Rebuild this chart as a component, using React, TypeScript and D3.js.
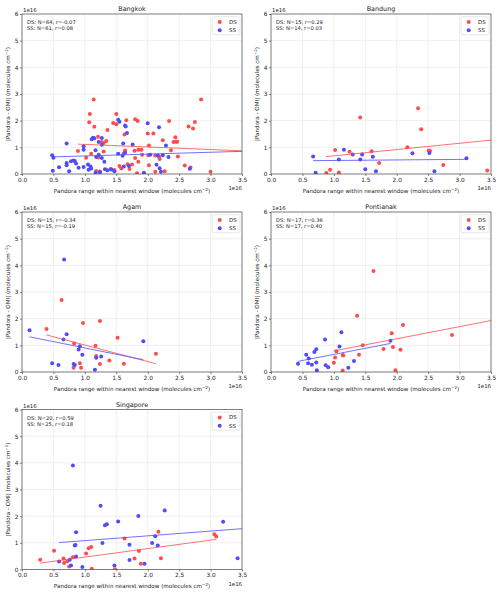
import React, {useEffect, useRef} from "react";
import * as d3 from "d3";

type Pt = [number, number];

// x: Pandora range, y: |Pandora - OMI|, both in units of 1e16 molecules cm^-2
const siteNames = ["Bangkok", "Bandung", "Agam", "Pontianak", "Singapore"];
const xTicks = [0, 0.5, 1, 1.5, 2, 2.5, 3, 3.5];
const yTicks = [0, 1, 2, 3, 4, 5, 6];

const dsN = [64, 15, 15, 17, 20];
const dsR = [-0.07, 0.29, -0.34, 0.36, 0.59];
const ssN = [61, 14, 15, 17, 25];
const ssR = [0.08, 0.03, -0.19, 0.4, 0.18];

const bangkokDS: Pt[] = [
	[1.14, 2.79], [1.08, 2.25], [1.07, 1.94], [1.15, 1.77], [1.5, 2.25], [1.45, 1.91],
	[1.5, 1.87], [1.36, 1.65], [1.66, 2.02], [1.63, 1.48], [1.21, 1.4], [1.34, 1.24],
	[1.3, 1.16], [0.89, 0.86], [1.1, 0.76], [1.3, 0.84], [1.02, 0.61], [1.22, 0.62],
	[1.18, 0.11], [1.24, 0.09], [1.41, 0.19], [1.47, 0.15], [1.58, 0.21], [1.55, 0.3],
	[1.64, 0.88], [1.62, 0.78], [1.8, 2.05], [1.84, 1.99], [2.34, 1.99], [2.75, 1.95],
	[2.65, 1.78], [2.72, 1.71], [2.0, 1.52], [2.09, 1.52], [2.44, 1.38], [2.24, 1.27],
	[2.41, 1.2], [2.45, 1.21], [2.47, 1.21], [2.02, 1.07], [1.85, 0.91], [1.9, 0.91],
	[2.37, 0.89], [1.79, 0.87], [2.01, 0.7], [2.12, 0.69], [2.18, 0.66], [2.48, 0.66],
	[1.8, 0.6], [1.85, 0.46], [1.68, 0.37], [1.75, 0.36], [2.19, 0.56], [2.59, 0.32],
	[2.68, 0.24], [1.71, 0.19], [1.83, 0.03], [2.12, 0.08], [2.27, 0.1], [3.0, 0.08],
	[2.02, 0.33], [1.91, 0.72], [1.27, 1.2], [2.85, 2.79],
];
const bangkokSS: Pt[] = [
	[0.48, 0.7], [0.5, 0.61], [0.49, 0.12], [0.59, 0.25], [0.71, 1.14], [0.71, 0.41],
	[0.71, 0.33], [0.75, 0.1], [0.82, 0.51], [0.84, 0.49], [0.86, 0.39], [0.9, 0.23],
	[0.98, 1.04], [0.98, 0.91], [0.98, 0.26], [1.05, 0.36], [1.06, 0.16], [1.11, 1.3],
	[1.13, 1.36], [1.15, 1.34], [1.1, 0.21], [1.17, 0.89], [1.18, 0.64], [1.22, 1.2],
	[1.22, 0.72], [1.27, 1.35], [1.27, 0.6], [1.31, 0.46], [1.27, 1.1], [1.36, 0.14],
	[1.53, 2.03], [1.55, 1.96], [1.47, 0.1], [1.6, 0.68], [1.61, 1.14], [1.64, 1.82],
	[1.65, 1.78], [1.67, 1.54], [1.53, 0.76], [2.0, 1.9], [2.18, 1.75], [1.76, 1.11],
	[1.64, 0.8], [2.04, 0.72], [2.16, 0.69], [2.24, 0.7], [2.29, 1.07], [2.33, 0.64],
	[1.7, 0.3], [2.21, 0.08], [1.94, 0.05], [2.67, 0.2], [2.14, 0.35], [1.42, 0.17],
	[1.17, 0.05], [1.24, 0.07], [1.32, 0.18], [0.78, 0.48], [1.62, 0.28], [1.09, 0.28],
	[2.19, 0.22],
];

const bandungDS: Pt[] = [
	[0.88, 0.04], [0.94, 0.16], [1.02, 0.9], [1.08, 0.06], [1.25, 0.83], [1.42, 2.12],
	[1.6, 0.85], [1.72, 0.41], [2.17, 1.0], [2.34, 2.47], [2.39, 1.68], [2.51, 0.88],
	[2.53, 0.86], [2.74, 0.34], [3.44, 0.13],
];
const bandungSS: Pt[] = [
	[0.67, 0.66], [0.71, 0.05], [1.08, 0.54], [1.16, 0.91], [1.3, 0.73], [1.42, 0.54],
	[1.45, 0.73], [1.5, 0.18], [1.62, 0.65], [1.67, 0.1], [2.25, 0.78], [2.52, 0.79],
	[2.6, 0.1], [3.11, 0.59],
];

const agamDS: Pt[] = [
	[0.39, 1.61], [0.63, 2.7], [0.83, 1.07], [0.82, 0.16], [0.92, 0.33], [0.94, 0.16],
	[0.97, 1.84], [1.17, 0.98], [1.18, 0.6], [1.24, 1.91], [1.24, 0.3], [1.39, 0.43],
	[1.52, 1.28], [1.62, 0.31], [2.13, 0.68],
];
const agamSS: Pt[] = [
	[0.12, 1.57], [0.48, 0.33], [0.58, 0.26], [0.66, 1.22], [0.67, 4.22], [0.71, 1.42],
	[0.82, 0.3], [0.84, 0.26], [0.9, 0.84], [0.92, 0.97], [0.96, 0.65], [1.16, 0.08],
	[1.18, 0.53], [1.26, 0.58], [1.93, 1.15],
];

const pontianakDS: Pt[] = [
	[1.0, 0.35], [1.02, 0.54], [1.04, 0.78], [1.14, 0.64], [1.14, 0.06], [1.37, 2.11],
	[1.4, 0.65], [1.46, 1.0], [1.63, 3.79], [1.79, 0.86], [1.92, 1.45], [1.94, 0.94],
	[1.98, 0.07], [2.06, 0.83], [2.1, 1.76], [2.88, 1.39], [1.15, 0.62],
];
const pontianakSS: Pt[] = [
	[0.43, 0.31], [0.56, 0.65], [0.6, 0.51], [0.59, 0.33], [0.65, 0.27], [0.69, 0.75],
	[0.72, 0.85], [0.72, 0.36], [0.73, 0.07], [0.86, 1.22], [0.87, 0.25], [0.91, 0.18],
	[1.09, 0.96], [1.12, 1.49], [1.23, 0.16], [1.32, 0.41], [1.9, 1.17],
];

const singaporeDS: Pt[] = [
	[0.29, 0.37], [0.51, 0.7], [0.66, 0.41], [0.67, 0.24], [0.72, 0.31], [0.75, 0.11],
	[0.81, 0.46], [1.02, 0.6], [1.06, 0.8], [1.1, 0.84], [1.11, 0.03], [1.48, 0.01],
	[1.63, 1.16], [2.17, 1.42], [1.86, 0.69], [1.79, 0.41], [1.89, 0.22], [2.21, 0.42],
	[3.06, 1.32], [3.09, 1.24],
];
const singaporeSS: Pt[] = [
	[0.81, 3.9], [0.59, 0.3], [0.76, 0.37], [0.78, 0.15], [0.84, 0.9], [0.86, 1.4],
	[0.86, 0.49], [0.96, 0.09], [1.25, 2.39], [1.28, 0.99], [1.32, 1.66], [1.35, 1.7],
	[1.47, 0.15], [1.53, 1.8], [1.71, 0.93], [1.71, 0.36], [1.85, 2.01], [2.27, 2.21],
	[1.95, 0.22], [2.07, 0.99], [2.12, 1.25], [2.16, 0.9], [3.2, 1.79], [3.43, 0.42],
	[0.85, 0.92],
];

// fitted regression lines, [start, end]
const dsFits: Pt[][] = [
	[[0.89, 1.12], [3.5, 0.87]],
	[[0.87, 0.65], [3.5, 1.27]],
	[[0.39, 1.39], [2.13, 0.31]],
	[[1.0, 0.79], [3.5, 1.93]],
	[[0.29, 0.24], [3.09, 1.13]],
];
const ssFits: Pt[][] = [
	[[0.47, 0.64], [3.5, 0.85]],
	[[0.67, 0.5], [3.11, 0.55]],
	[[0.12, 1.32], [1.93, 0.46]],
	[[0.43, 0.4], [1.9, 1.07]],
	[[0.59, 1.01], [3.5, 1.53]],
];

const dsPoints = [bangkokDS, bandungDS, agamDS, pontianakDS, singaporeDS];
const ssPoints = [bangkokSS, bandungSS, agamSS, pontianakSS, singaporeSS];

const RED = "#ff4d4d";
const BLUE = "#4d4dff";
const FONT = "DejaVu Sans, sans-serif";

const W = 500;
const H = 594;
const colLeft = [22, 271];
const rowTop = [14, 212, 409.5];
const plotW = 220;
const plotH = 160;

const App: React.FC = () => {
	const svgRef = useRef<SVGSVGElement>(null);

	useEffect(() => {
		const svg = d3.select(svgRef.current);
		svg.selectAll("*").remove();
		svg.append("rect").attr("width", W).attr("height", H).attr("fill", "#fff");

		const x = d3.scaleLinear().domain([0, 3.5]).range([0, plotW]);
		const y = d3.scaleLinear().domain([0, 6]).range([plotH, 0]);
		const line = d3
			.line<Pt>()
			.x((d) => x(d[0]))
			.y((d) => y(d[1]));

		siteNames.forEach((site, i) => {
			const left = colLeft[i % 2];
			const top = rowTop[Math.floor(i / 2)];
			const g = svg.append("g").attr("transform", `translate(${left}, ${top})`);

			// grid
			g.append("g")
				.selectAll("line")
				.data(xTicks)
				.enter()
				.append("line")
				.attr("x1", (d) => x(d))
				.attr("x2", (d) => x(d))
				.attr("y1", 0)
				.attr("y2", plotH)
				.attr("stroke", "#e6e6e6")
				.attr("stroke-width", 0.6);
			g.append("g")
				.selectAll("line")
				.data(yTicks)
				.enter()
				.append("line")
				.attr("x1", 0)
				.attr("x2", plotW)
				.attr("y1", (d) => y(d))
				.attr("y2", (d) => y(d))
				.attr("stroke", "#e6e6e6")
				.attr("stroke-width", 0.6);

			const clipId = `clip-${i}`;
			g.append("clipPath")
				.attr("id", clipId)
				.append("rect")
				.attr("width", plotW)
				.attr("height", plotH);
			const inner = g.append("g").attr("clip-path", `url(#${clipId})`);

			// scatter
			inner
				.selectAll(".ds")
				.data(dsPoints[i])
				.enter()
				.append("circle")
				.attr("cx", (d) => x(d[0]))
				.attr("cy", (d) => y(d[1]))
				.attr("r", 2)
				.attr("fill", RED);
			inner
				.selectAll(".ss")
				.data(ssPoints[i])
				.enter()
				.append("circle")
				.attr("cx", (d) => x(d[0]))
				.attr("cy", (d) => y(d[1]))
				.attr("r", 2)
				.attr("fill", BLUE);

			// fit lines
			inner
				.append("path")
				.datum(dsFits[i])
				.attr("d", line)
				.attr("fill", "none")
				.attr("stroke", RED)
				.attr("stroke-width", 0.8);
			inner
				.append("path")
				.datum(ssFits[i])
				.attr("d", line)
				.attr("fill", "none")
				.attr("stroke", BLUE)
				.attr("stroke-width", 0.8);

			// axes
			const xAxis = g
				.append("g")
				.attr("transform", `translate(0, ${plotH})`)
				.call(
					d3
						.axisBottom(x)
						.tickValues(xTicks)
						.tickSize(2)
						.tickPadding(1.5)
						.tickFormat((d) => (d as number).toFixed(1))
				);
			const yAxis = g.append("g").call(
				d3
					.axisLeft(y)
					.tickValues(yTicks)
					.tickSize(2)
					.tickPadding(1.5)
					.tickFormat((d) => String(d))
			);
			[xAxis, yAxis].forEach((ax) => {
				ax.select(".domain").remove();
				ax.selectAll("line").attr("stroke", "#333").attr("stroke-width", 0.6);
				ax.selectAll("text")
					.attr("font-family", FONT)
					.attr("font-size", 5.8)
					.attr("fill", "#222");
			});

			g.append("rect")
				.attr("width", plotW)
				.attr("height", plotH)
				.attr("fill", "none")
				.attr("stroke", "#333")
				.attr("stroke-width", 0.6);

			// title and labels
			g.append("text")
				.attr("x", plotW / 2)
				.attr("y", -3)
				.attr("text-anchor", "middle")
				.attr("font-family", FONT)
				.attr("font-size", 6.4)
				.attr("fill", "#222")
				.text(site);

			g.append("text")
				.attr("x", 1)
				.attr("y", -2)
				.attr("font-family", FONT)
				.attr("font-size", 5.4)
				.attr("fill", "#222")
				.text("1e16");
			g.append("text")
				.attr("x", plotW)
				.attr("y", plotH + 16)
				.attr("text-anchor", "end")
				.attr("font-family", FONT)
				.attr("font-size", 5.4)
				.attr("fill", "#222")
				.text("1e16");

			const xl = g
				.append("text")
				.attr("x", plotW / 2)
				.attr("y", plotH + 18.5)
				.attr("text-anchor", "middle")
				.attr("font-family", FONT)
				.attr("font-size", 5.6)
				.attr("fill", "#222");
			xl.append("tspan").text("Pandora range within nearest window (molecules cm");
			xl.append("tspan").attr("dy", -2).attr("font-size", 4).text("\u22122");
			xl.append("tspan").attr("dy", 2).text(")");

			const yl = g
				.append("text")
				.attr("transform", `translate(-12.5, ${plotH / 2}) rotate(-90)`)
				.attr("text-anchor", "middle")
				.attr("font-family", FONT)
				.attr("font-size", 5.6)
				.attr("fill", "#222");
			yl.append("tspan").text("|Pandora - OMI| (molecules cm");
			yl.append("tspan").attr("dy", -2).attr("font-size", 4).text("\u22122");
			yl.append("tspan").attr("dy", 2).text(")");

			// stats annotation
			const stats = [
				`DS: N=${dsN[i]}, r=${dsR[i].toFixed(2)}`,
				`SS: N=${ssN[i]}, r=${ssR[i].toFixed(2)}`,
			];
			g.selectAll(".stat")
				.data(stats)
				.enter()
				.append("text")
				.attr("x", 5)
				.attr("y", (d, k) => 10 + k * 6.3)
				.attr("font-family", FONT)
				.attr("font-size", 5.2)
				.attr("fill", "#222")
				.text((d) => d);

			// legend
			const lg = g.append("g").attr("transform", `translate(${plotW - 30}, 2.7)`);
			lg.append("rect")
				.attr("width", 28)
				.attr("height", 18)
				.attr("rx", 1.5)
				.attr("fill", "#fff")
				.attr("fill-opacity", 0.8)
				.attr("stroke", "#d0d0d0")
				.attr("stroke-width", 0.5);
			[
				{label: "DS", color: RED},
				{label: "SS", color: BLUE},
			].forEach((item, k) => {
				lg.append("circle")
					.attr("cx", 7.7)
					.attr("cy", 5.3 + k * 8.3)
					.attr("r", 2)
					.attr("fill", item.color);
				lg.append("text")
					.attr("x", 17)
					.attr("y", 7.3 + k * 8.3)
					.attr("font-family", FONT)
					.attr("font-size", 5.4)
					.attr("fill", "#222")
					.text(item.label);
			});
		});
	}, []);

	return (
		<svg
			ref={svgRef}
			width={W}
			height={H}
			style={{position: "absolute", left: 0, top: 0}}
		/>
	);
};

export default App;
